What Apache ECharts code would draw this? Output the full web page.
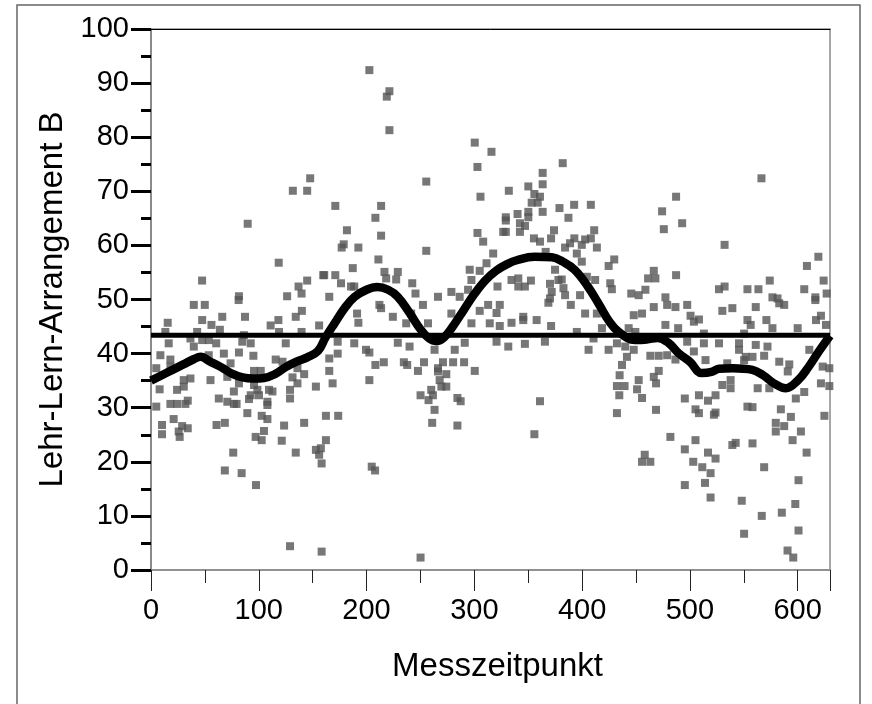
<!DOCTYPE html>
<html><head><meta charset="utf-8">
<script src="https://cdn.jsdelivr.net/npm/echarts@6/dist/echarts.min.js"></script>
<style>html,body{margin:0;padding:0;background:#fff}#c{width:872px;height:704px}</style>
</head><body><div id="c"></div>
<script>
// Achsen
const xMin = 0, xMax = 630, xStep = 100;
const yMin = 0, yMax = 100, yStep = 10;
const xTitel = 'Messzeitpunkt';
const yTitel = 'Lehr-Lern-Arrangement B';

// Mittelwert (horizontale Linie)
const mittelwert = 43.4;

// Geglättete Kurve (Messzeitpunkt, Wert)
const kurveX = [0,10,20,30,40,46,55,65,75,85,95,105,115,125,135,145,155,162,170,180,189,200,210,220,229,240,250,258,265,272,280,290,300,310,320,330,340,356,372,382,393,405,416,425,434,449,460,470,480,490,500,511,520,527,540,558,568,578,589,600,610,620,630];
const kurveY = [35,36,37,38,39,39.4,38.5,37.5,36.3,35.6,35.4,35.5,36.2,37.5,38.5,39.3,40.5,43,45.5,48.5,50.5,51.8,52.3,51.8,50.5,47.5,44.5,42.8,42.3,43,45,48,51,53.5,55.3,56.5,57.3,57.9,57.8,57,55.5,52.5,49,46,44,42.5,42.6,42.9,42,40,38.5,36.4,36.6,37.2,37.3,37,36,34.5,33.6,35,37.5,40.5,43.3];

// Einzelne Messwerte [Messzeitpunkt, Wert]
const punkteA = [[147.7,72.4],[131.6,70.1],[144.9,70.1],[89.7,64.0],[118.5,56.8],[47.4,53.5],[144.9,53.5],[159.8,54.5],[136.9,52.4],[139.7,51.1],[81.6,50.6],[126.3,50.6],
[39.7,49.0],[49.9,49.0],[15.5,45.7],[47.5,46.2],[56.1,45.3],[63.9,44.4],[66.1,46.8],[87.2,46.8],[81.3,49.9],[111,45.2],[118.2,46.2],[134.3,46.8],[140,47.9],[156,45.2],[13.3,44.0],[42.8,44.0],[36.6,42.8],[47.5,42.5],[53.6,42.5],[39.7,41.3],[16.4,41.9],[60.5,41.9],[84.7,42.2],[92.5,41.9],[86.2,43.4],[118.8,44.0],[125,41.9],[139.7,44.0],[8.7,39.7],[18,38.9],[18,37.6],[4.9,37.3],[53.6,39.7],[67.6,40.0],[81.6,40.2],[95,39.6],[73.8,38.2],[115.7,38.9],[122,38.5],[135.9,37.3],[142.1,36.2],[131.3,35.6],[135.9,34.5],[95.6,36.8],[101.8,36.8],[30.4,35.1],[36.6,35.4],[24.2,33.3],[30.4,33.9],[55.2,35.1],[70.8,35.7],[81.6,34.5],[76.9,33.0],[95.6,34.2],[98.7,33.3],[100.2,32.3],[109.5,33.3],[112.7,33.0],[129,33.3],[129,31.7],[153,33.9],[8,33.4],[4.9,30.2],[18,30.7],[24.2,30.7],[31.9,30.7],[34.1,31.3],[62.9,31.7],[70.8,31.1],[76.9,30.7],[79.4,30.7],[90.9,31.6],[92.5,32.3],[108,31.1],[108,30.5],[89.4,29.0],[21,27.9],[10.2,26.8],[10.2,25.1],[28.9,26.6],[34.1,26.2],[25.7,25.6],[26.6,24.6],[60.8,26.8],[68.5,27.2],[102.7,28.5],[108,27.9],[104.8,25.7],[97.1,24.6],[102.7,24.0],[123.5,26.7],[142.1,27.2],[121.3,23.9],[134.3,21.7],[153,22.2],[157.6,22.5],[156,21.3],[158.3,19.7],[162.3,24.0],[162.3,28.5],[76.3,21.7],[68.5,18.4],[84.1,17.9],[97.4,15.7],[129,4.4],[158.3,3.4]];
const punkteB = [[202.6,92.4],[221.2,88.5],[218.8,87.5],[221.2,81.3],[300.4,79.0],[315.9,77.3],[302.9,74.5],[255.4,71.8],[305.7,69.0],[171,67.3],[213.5,67.3],[208.2,65.1],[181.8,62.8],[213.5,61.8],[302.9,62.3],[308.2,60.7],[178.8,60.2],[176.9,59.6],[192.4,59.6],[255.4,59.0],[211,57.4],[317.5,58.5],[187.2,55.8],[160.7,54.5],[171,54.5],[216.6,55.1],[229,55.1],[218.2,53.9],[227.5,53.7],[176.3,53.0],[185.6,52.4],[188.6,52.4],[242.4,53.0],[245.4,51.1],[295.7,55.5],[305,55.3],[311.3,56.7],[297.3,53.6],[294.2,51.8],[278.7,51.4],[266.3,50.5],[286.4,50.5],[165.4,50.5],
[191.2,47.4],[192.4,45.7],[211.9,49.0],[213.5,48.4],[224.4,46.8],[236.8,45.6],[241.4,47.4],[252.3,49.0],[257,45.6],[278.7,47.4],[297.3,45.6],[305,47.9],[312.8,49.0],[314.3,45.6],[173.2,42.2],[188.6,41.9],[199.5,40.7],[202.6,40.2],[229,42.0],[239.9,41.3],[263.1,40.7],[281.8,40.7],[291.1,42.0],[165.4,39.1],[173.2,40.0],[165.4,36.8],[168.5,34.5],[202.6,35.1],[208.2,37.9],[216,38.4],[234.6,38.4],[237.7,37.9],[247.7,36.8],[253.3,38.4],[266.3,37.3],[266.3,36.7],[274,36.2],[270.9,38.4],[280.3,38.4],[290.5,38.4],[300.4,36.8],[267.8,35.1],[274,33.9],[269.4,33.9],[260,33.3],[261.6,32.3],[250.1,32.3],[257.5,31.4],[284.3,31.8],[287.3,31.2],[263.1,29.6],[260.9,27.2],[284.3,26.7],[173.7,28.5],[204.8,19.1],[207.9,18.4],[250.1,2.3]];
const punkteC = [[382,75.2],[363.4,73.4],[363.4,71.3],[332,70.1],[350.1,70.9],[355.7,69.5],[360.9,69.0],[353.2,67.9],[358.8,67.9],[392.6,67.5],[408.1,67.5],[363.4,66.2],[379,66.9],[387.3,65.1],[329.2,65.2],[329.2,64.6],[340.1,65.8],[350.1,66.2],[350.1,65.2],[347,63.6],[342.3,64.1],[342.3,62.5],[326.8,62.5],[329.2,62.5],[474.2,66.3],[475.8,63.0],[373.9,62.8],[371.2,61.3],[355.3,61.3],[360.9,60.7],[411.2,62.8],[392.8,61.3],[388.8,60.4],[384.2,59.6],[402.8,61.1],[408.1,61.3],[399.7,60.1],[413.7,59.6],[395.1,58.5],[366.2,58.8],[399.7,57.0],[429.8,57.4],[424.6,56.2],[466.5,55.3],[461.2,53.9],[468,53.9],[334.5,53.6],[340.8,53.9],[340.8,52.4],[346.9,52.4],[352.5,53.5],[321.5,52.4],[374.9,55.5],[381.1,53.7],[378,53.6],[370.2,52.9],[371.8,51.4],[382.7,52.1],[384.2,50.8],[404.4,54.2],[412.1,53.6],[426.1,53.0],[427.6,51.9],[445.6,51.1],[452.5,50.8],[458.7,51.8],[398.1,50.8],[370.2,50.2],
[323.6,49.0],[320.6,47.5],[323.6,45.1],[334.5,45.7],[345.4,46.8],[345.4,46.2],[357.8,46.2],[371.2,45.1],[368.7,49.4],[389.5,49.0],[402.8,47.4],[413.7,47.4],[395.1,44.0],[410.6,42.8],[418.4,44.7],[320.6,42.2],[331.5,41.3],[346.9,41.8],[365.5,42.2],[406,40.7],[424.6,40.7],[432.3,41.9],[440,41.3],[447.9,47.1],[455.6,47.4],[466.5,48.6],[443.2,44.7],[449.4,44.0],[441.6,39.4],[447.9,40.7],[463.3,39.6],[471.1,39.6],[437,37.9],[434.8,36.0],[432.3,34.0],[439.4,34.0],[434.5,32.3],[452.5,35.1],[451,33.4],[455.6,31.8],[471.1,36.8],[466.5,35.7],[468.6,34.5],[360.9,31.2],[432.3,29.0],[468.6,29.6],[355.7,25.1],[458.1,21.3],[455.6,20.0],[463.3,20.0]];
const punkteD = [[566.4,72.4],[487.2,69.0],[492.8,64.1],[532.2,60.1],[619.2,57.9],[608.6,56.2],[487.2,54.5],[574.1,53.5],[624.1,53.5],[527,51.9],[532.2,52.4],[553.4,51.9],[563.6,51.9],[606.1,51.9],[576.6,50.4],[581.3,50.2],[616.4,50.4],[626.9,51.1],[477.3,50.4],
[478.9,49.0],[486.6,48.6],[497.5,49.0],[500.6,47.0],[503.7,45.9],[508.4,46.3],[530.1,47.9],[539.4,48.4],[561.1,48.6],[582.9,49.3],[587.5,49.0],[616.4,49.9],[553.4,46.2],[556.4,45.3],[571,46.2],[576.6,44.7],[600,44.7],[617,46.2],[621.6,47.0],[626.3,45.3],[477.3,45.3],[489.1,44.7],[513,43.7],[550.3,43.7],[497.5,42.2],[513,41.9],[527,41.9],[545.6,41.9],[561.1,41.6],[572,41.3],[503.7,40.4],[545.6,40.7],[551.8,39.4],[568.9,39.6],[478.9,39.7],[486.6,38.9],[514.5,38.8],[534.7,38.2],[550.3,38.8],[558.1,39.4],[582.9,38.5],[592.2,38.0],[590.8,36.7],[610.8,40.7],[623.2,37.6],[629.4,37.3],[621.6,34.5],[629.4,34.0],[530.1,34.2],[537.8,33.6],[537.8,35.1],[562.9,33.6],[573.7,33.6],[598.3,31.7],[606.1,32.9],[495.3,31.7],[508.4,32.3],[516.8,31.3],[523.8,32.3],[505.2,29.7],[508.4,29.0],[522.3,28.7],[523.8,29.1],[553.4,30.2],[558.1,30.1],[584.4,29.7],[593.7,28.3],[579.7,27.2],[587.5,26.6],[579.7,25.6],[603,25.6],[595.3,24.0],[624.8,28.5],[481.9,24.6],[505.2,24.0],[495.3,22.3],[539.4,23.1],[542.5,23.5],[558.1,23.4],[516.8,21.7],[523.8,20.6],[503.1,20.0],[511.5,19.0],[519.2,17.9],[608.3,21.7],[568.9,19.0],[495.3,15.7],[514,16.1],[600.8,16.6],[519.2,13.4],[548.1,12.8],[597.8,12.2],[585.3,10.6],[566.7,10.0],[600.8,7.3],[550.3,6.7],[590.6,3.6],[595.9,2.3]];

const punkte = punkteA.concat(punkteB, punkteC, punkteD);
const kurve = kurveX.map((x, i) => [x, kurveY[i]]);

const FONT = 'Liberation Sans, Arial, sans-serif';
const chart = echarts.init(document.getElementById('c'), null, {renderer: 'canvas'});
chart.setOption({
  animation: false,
  backgroundColor: '#fff',
  graphic: [{
    type: 'rect', shape: {x: 17, y: 5, width: 843, height: 720},
    style: {fill: 'none', stroke: '#666', lineWidth: 1.5}, silent: true
  }],
  grid: {left: 151, right: 42, top: 29, bottom: 134, show: true, borderColor: '#8a8a8a', borderWidth: 1.5},
  xAxis: [{
    type: 'value', min: xMin, max: xMax, interval: xStep,
    name: xTitel, nameLocation: 'middle', nameGap: 80,
    nameTextStyle: {fontFamily: FONT, fontSize: 33, color: '#000', padding: [0, 0, 0, 14]},
    axisLine: {show: true, onZero: false, lineStyle: {color: '#8a8a8a', width: 1.5}},
    axisTick: {show: true, inside: false, length: 21, lineStyle: {color: '#222', width: 1}},
    minorTick: {show: true, splitNumber: 2, length: 13, lineStyle: {color: '#222', width: 1}},
    axisLabel: {fontFamily: FONT, fontSize: 29, color: '#000', margin: 26,
      formatter: v => (v % 100 === 0 && v <= 600) ? String(v) : ''},
    splitLine: {show: false}
  }, {
    type: 'value', min: xMin, max: xMax, position: 'top',
    axisLine: {show: true, onZero: false, lineStyle: {color: '#000', width: 1}},
    axisTick: {show: false}, axisLabel: {show: false}, splitLine: {show: false}
  }],
  yAxis: {
    type: 'value', min: yMin, max: yMax, interval: yStep,
    name: yTitel, nameLocation: 'middle', nameGap: 80, nameRotate: 90,
    nameTextStyle: {fontFamily: FONT, fontSize: 33, color: '#000'},
    axisLine: {show: true, onZero: false, lineStyle: {color: '#8a8a8a', width: 2}},
    axisTick: {show: true, length: 20, lineStyle: {color: '#000', width: 3}},
    minorTick: {show: true, splitNumber: 2, length: 10, lineStyle: {color: '#000', width: 3}},
    axisLabel: {fontFamily: FONT, fontSize: 29, color: '#000', margin: 22},
    splitLine: {show: false}
  },
  series: [{
    type: 'scatter', data: punkte, symbol: 'rect', symbolSize: 8,
    itemStyle: {color: '#555555'}, z: 2, silent: true
  }, {
    type: 'line', data: [[xMin, mittelwert], [xMax, mittelwert]], symbol: 'none',
    lineStyle: {color: '#000', width: 5}, z: 3, silent: true
  }, {
    type: 'line', data: kurve, symbol: 'none', smooth: 0.4,
    lineStyle: {color: '#000', width: 8.5}, z: 4, silent: true
  }]
});
</script>
</body></html>
